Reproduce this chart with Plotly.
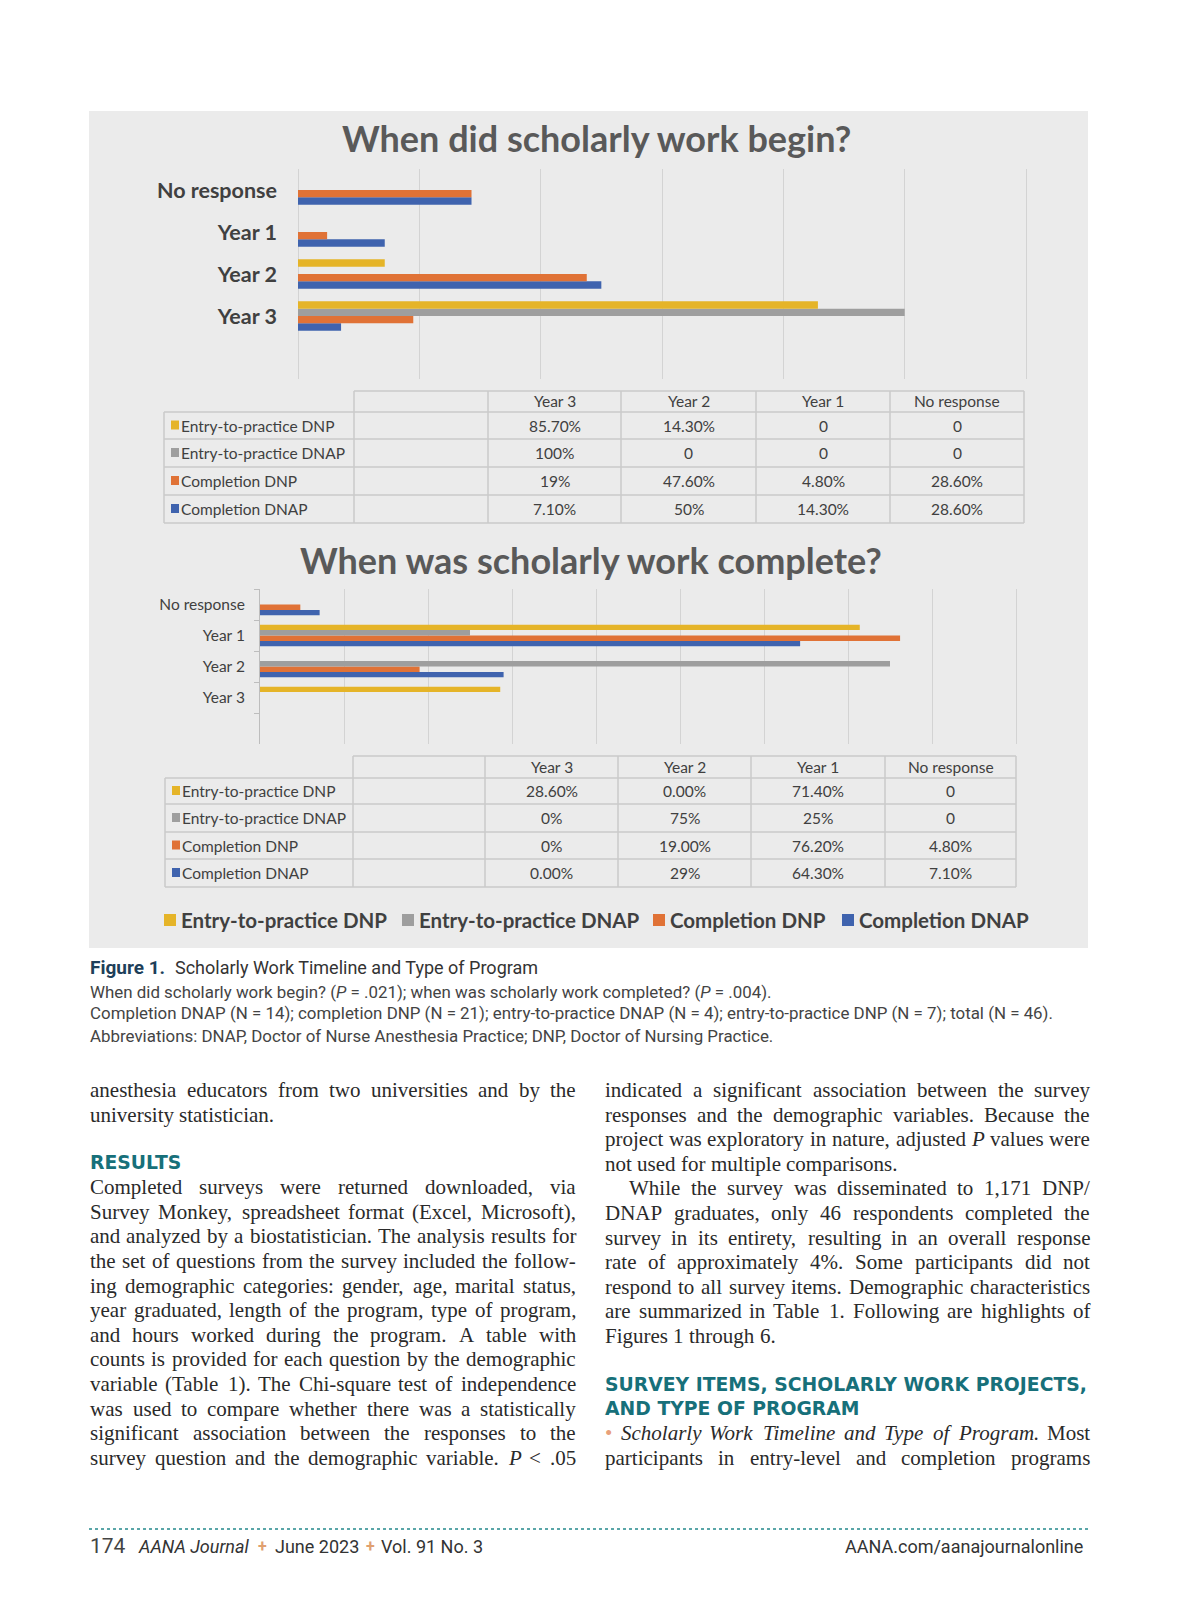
import plotly.graph_objects as go

W, H = 1200, 1606

# ---------------- data ----------------
categories = ["Year 3", "Year 2", "Year 1", "No response"]
series_names = ["Entry-to-practice DNP", "Entry-to-practice DNAP", "Completion DNP", "Completion DNAP"]
series_colors = ["#E5B428", "#9E9E9E", "#E07236", "#3F63AE"]

begin_entry_dnp = [85.7, 14.3, 0, 0]
begin_entry_dnap = [100, 0, 0, 0]
begin_compl_dnp = [19, 47.6, 4.8, 28.6]
begin_compl_dnap = [7.1, 50, 14.3, 28.6]

begin_entry_dnp_lbl = ["85.70%", "14.30%", "0", "0"]
begin_entry_dnap_lbl = ["100%", "0", "0", "0"]
begin_compl_dnp_lbl = ["19%", "47.60%", "4.80%", "28.60%"]
begin_compl_dnap_lbl = ["7.10%", "50%", "14.30%", "28.60%"]

complete_entry_dnp = [28.6, 0, 71.4, 0]
complete_entry_dnap = [0, 75, 25, 0]
complete_compl_dnp = [0, 19, 76.2, 4.8]
complete_compl_dnap = [0, 29, 64.3, 7.1]

complete_entry_dnp_lbl = ["28.60%", "0.00%", "71.40%", "0"]
complete_entry_dnap_lbl = ["0%", "75%", "25%", "0"]
complete_compl_dnp_lbl = ["0%", "19.00%", "76.20%", "4.80%"]
complete_compl_dnap_lbl = ["0.00%", "29%", "64.30%", "7.10%"]

title1 = "When did scholarly work begin?"
title2 = "When was scholarly work complete?"

caption_head = "Figure 1."
caption_title = "Scholarly Work Timeline and Type of Program"
caption_lines = [
    "When did scholarly work begin? (<i>P</i> = .021); when was scholarly work completed? (<i>P</i> = .004).",
    "Completion DNAP (N = 14); completion DNP (N = 21); entry-to-practice DNAP (N = 4); entry-to-practice DNP (N = 7); total (N = 46).",
    "Abbreviations: DNAP, Doctor of Nurse Anesthesia Practice; DNP, Doctor of Nursing Practice.",
]

# line markup: "#" heading, ">" indented first line, trailing "|" = last line of paragraph (not justified)
# words wrapped in _..._ are italic
left_col = [
    "anesthesia educators from two universities and by the",
    "university statistician.|",
    None,
    "#RESULTS",
    "Completed surveys were returned downloaded, via",
    "Survey Monkey, spreadsheet format (Excel, Microsoft),",
    "and analyzed by a biostatistician. The analysis results for",
    "the set of questions from the survey included the follow-",
    "ing demographic categories: gender, age, marital status,",
    "year graduated, length of the program, type of program,",
    "and hours worked during the program. A table with",
    "counts is provided for each question by the demographic",
    "variable (Table 1). The Chi-square test of independence",
    "was used to compare whether there was a statistically",
    "significant association between the responses to the",
    "survey question and the demographic variable. _P_ < .05",
]
right_col = [
    "indicated a significant association between the survey",
    "responses and the demographic variables. Because the",
    "project was exploratory in nature, adjusted _P_ values were",
    "not used for multiple comparisons.|",
    ">While the survey was disseminated to 1,171 DNP/",
    "DNAP graduates, only 46 respondents completed the",
    "survey in its entirety, resulting in an overall response",
    "rate of approximately 4%. Some participants did not",
    "respond to all survey items. Demographic characteristics",
    "are summarized in Table 1. Following are highlights of",
    "Figures 1 through 6.|",
    None,
    "#SURVEY ITEMS, SCHOLARLY WORK PROJECTS,",
    "#AND TYPE OF PROGRAM",
    "• _Scholarly_ _Work_ _Timeline_ _and_ _Type_ _of_ _Program._ Most",
    "participants in entry-level and completion programs",
]

footer_page = "174"
footer_parts = ["<i>AANA Journal</i>", "June 2023", "Vol. 91 No. 3"]
footer_right = "AANA.com/aanajournalonline"

# ---------------- helpers ----------------
DX, DY = -9, -8

def fx(x):
    return (x + DX) / W

def fy(y):
    return 1 - (y + DY) / H

CHART_FONT = "Lato"
annotations = []
shapes = []

def text(x, y, s, size, color="#404040", family=CHART_FONT, xanchor="left", weight="normal", style="normal"):
    annotations.append(dict(
        x=fx(x), y=fy(y), xref="paper", yref="paper", text=s, showarrow=False,
        xanchor=xanchor, yanchor="middle", borderpad=0,
        font=dict(size=size, color=color, family=family, weight=weight, style=style),
    ))

def rect(x0, y0, x1, y1, color, layer="below"):
    shapes.append(dict(type="rect", xref="paper", yref="paper",
                       x0=fx(x0), x1=fx(x1), y0=fy(y1), y1=fy(y0),
                       fillcolor=color, line=dict(width=0), layer=layer))

def line(x0, y0, x1, y1, color, width=1.5, dash="solid"):
    shapes.append(dict(type="line", xref="paper", yref="paper",
                       x0=fx(x0), x1=fx(x1), y0=fy(y0), y1=fy(y1),
                       line=dict(color=color, width=width, dash=dash), layer="above"))

# Times / Liberation Serif advance widths (1/1000 em)
TW = {' ': 250, '!': 333, '"': 408, '%': 833, '&': 778, "'": 180, '(': 333, ')': 333, '+': 564,
      ',': 250, '-': 333, '.': 250, '/': 278, ':': 278, ';': 278, '<': 564, '=': 564, '>': 564, '?': 444,
      '•': 350}
for c in "0123456789":
    TW[c] = 500
TW.update(dict(zip("ABCDEFGHIJKLMNOPQRSTUVWXYZ",
                   [722, 667, 667, 722, 611, 556, 722, 722, 333, 389, 722, 611, 889, 722, 722, 556, 722, 667,
                    556, 611, 722, 722, 944, 722, 722, 611])))
TW.update(dict(zip("abcdefghijklmnopqrstuvwxyz",
                   [444, 500, 444, 500, 444, 333, 500, 500, 278, 278, 500, 278, 778, 500, 500, 500, 500, 333,
                    389, 278, 500, 500, 722, 500, 500, 444])))
TWI = dict(TW)
TWI.update({'P': 611, 'S': 500, 'W': 833, 'T': 556, 'a': 500, 'f': 278, 'k': 444, 'm': 722, 'r': 389,
            'v': 444, 'w': 667, 'x': 444, 'y': 444, 'z': 389})

def word_width(w, size):
    italic = len(w) > 2 and w.startswith("_") and w.endswith("_")
    core = w[1:-1] if italic else w
    table = TWI if italic else TW
    return sum(table.get(c, 500) for c in core) * size / 1000.0

def word_html(w):
    if len(w) > 2 and w.startswith("_") and w.endswith("_"):
        return "<i>" + w[1:-1].replace("<", "&lt;") + "</i>"
    if w == "•":
        return "<span style='color:#E8A07A'>•</span>"
    return w.replace("<", "&lt;")

BODY = "Liberation Serif"
BODY_SIZE = 21
BODY_COLOR = "#2A2A2A"
HEAD = "DejaVu Sans"

def body_line(x0, x1, y, s, justify):
    words = s.split(" ")
    widths = [word_width(w, BODY_SIZE) for w in words]
    space = 250 * BODY_SIZE / 1000.0
    if justify and len(words) > 1:
        gap = (x1 - x0 - sum(widths)) / (len(words) - 1)
        gap = max(gap, 0.18 * BODY_SIZE)
    else:
        gap = space
    x = x0
    for w, wd in zip(words, widths):
        text(x, y, word_html(w), BODY_SIZE, BODY_COLOR, family=BODY)
        x += wd + gap

def draw_column(x0, x1, lines):
    y = 1090
    for s in lines:
        if s is None:
            y += 23.5
            continue
        if s.startswith("#"):
            text(x0, y, s[1:], 18.8, "#17707A", family=HEAD, weight="bold")
        else:
            justify = not s.endswith("|")
            s2 = s.rstrip("|")
            indent = 0
            if s2.startswith(">"):
                s2 = s2[1:]
                indent = 24
            body_line(x0 + indent, x1, y, s2, justify)
        y += 24.6

# gray figure panel
rect(90, 111, 1089, 948, "#EBEBEB")

fig = go.Figure()

begin_sets = [begin_entry_dnp, begin_entry_dnap, begin_compl_dnp, begin_compl_dnap]
complete_sets = [complete_entry_dnp, complete_entry_dnap, complete_compl_dnp, complete_compl_dnap]

# reversed so that the first series sits on top of each group
for i in reversed(range(4)):
    fig.add_trace(go.Bar(y=categories, x=begin_sets[i], orientation="h", name=series_names[i],
                         marker=dict(color=series_colors[i], line=dict(width=0)),
                         xaxis="x", yaxis="y", showlegend=False, hoverinfo="skip"))
for i in reversed(range(4)):
    fig.add_trace(go.Bar(y=categories, x=complete_sets[i], orientation="h", name=series_names[i],
                         marker=dict(color=series_colors[i], line=dict(width=0)),
                         xaxis="x2", yaxis="y2", showlegend=False, hoverinfo="skip"))

GRID = "#D3D3D3"

# titles
text(597, 138, title1, 36, "#595959", weight="bold", xanchor="center")
text(592, 560, title2, 36, "#595959", weight="bold", xanchor="center")

# tables
def draw_table(xb, yb, labels_sets):
    bc = "#CACACA"
    line(xb[1], yb[0], xb[-1], yb[0], bc)
    for y in yb[1:]:
        line(xb[0], y, xb[-1], y, bc)
    line(xb[0], yb[1], xb[0], yb[-1], bc)
    for x in xb[1:]:
        line(x, yb[0], x, yb[-1], bc)
    for j, c in enumerate(categories):
        text((xb[j + 2] + xb[j + 3]) / 2, (yb[0] + yb[1]) / 2, c, 15.5, xanchor="center")
    for i, name in enumerate(series_names):
        yc = (yb[i + 1] + yb[i + 2]) / 2
        rect(xb[0] + 7, yc - 5, xb[0] + 15, yc + 4, series_colors[i], layer="above")
        text(xb[0] + 16, yc, name, 15.5)
        for j in range(4):
            text((xb[j + 2] + xb[j + 3]) / 2, yc, labels_sets[i][j], 15.5, xanchor="center")

draw_table([165, 355, 489, 622, 757, 891, 1025], [391, 412, 439, 467, 495, 523],
           [begin_entry_dnp_lbl, begin_entry_dnap_lbl, begin_compl_dnp_lbl, begin_compl_dnap_lbl])
draw_table([166, 354, 486, 619, 752, 886, 1017], [756, 778, 804, 832, 859, 887],
           [complete_entry_dnp_lbl, complete_entry_dnap_lbl, complete_compl_dnp_lbl, complete_compl_dnap_lbl])

# legend
legend_x = [165, 403, 654, 843]
for i, name in enumerate(series_names):
    rect(legend_x[i], 914, legend_x[i] + 12, 926, series_colors[i], layer="above")
    text(legend_x[i] + 16, 920, name, 20.5, "#404040", weight="bold")

# caption
CAP = "Roboto"
text(90, 968, caption_head, 19, "#1E3F5A", family=CAP, weight="bold")
text(175, 968, caption_title, 18, "#333333", family=CAP)
for k, s in enumerate(caption_lines):
    text(90, [992, 1013, 1036][k], s, 16.9, "#444444", family=CAP)

draw_column(90, 576, left_col)
draw_column(605, 1090, right_col)

# footer
line(90, 1529, 1090, 1529, "#5AA6A8", width=2, dash="dot")
text(90, 1546, footer_page, 21, "#444444", family=CAP)
fx_pos = [138, 275, 381]
for k, s in enumerate(footer_parts):
    text(fx_pos[k], 1546, s, 18, "#333333", family=CAP)
for xp in [263, 371]:
    text(xp, 1546, "+", 16, "#E0A070", family=CAP, weight="bold", xanchor="center")
text(1085, 1546, footer_right, 18, "#333333", family=CAP, xanchor="right")

# axis geometry (range slightly past last gridline so the final gridline is drawn)
x1_left, x1_unit, x1_max = 299, (1027 - 299) / 120.0, 120.4
x2_left, x2_unit, x2_max = 261, (1017 - 261) / 90.0, 90.4

fig.update_layout(
    width=W, height=H,
    margin=dict(l=0, r=0, t=0, b=0),
    paper_bgcolor="white", plot_bgcolor="rgba(0,0,0,0)",
    barmode="group", bargap=0.3, bargroupgap=0,
    showlegend=False,
    annotations=annotations, shapes=shapes,
    xaxis=dict(domain=[fx(x1_left), fx(x1_left + x1_unit * x1_max)], range=[0, x1_max], dtick=20,
               showgrid=True, gridcolor=GRID, gridwidth=1, zeroline=True, zerolinecolor=GRID, zerolinewidth=1,
               showticklabels=False, ticks="", anchor="y", fixedrange=True),
    yaxis=dict(domain=[fy(379), fy(169)], type="category", categoryorder="array", categoryarray=categories,
               range=[-1.5, 3.5], showgrid=False, zeroline=False, ticks="", anchor="x",
               ticklabelstandoff=20,
               tickfont=dict(family=CHART_FONT, size=21.5, color="#404040", weight="bold"), fixedrange=True),
    xaxis2=dict(domain=[fx(x2_left), fx(x2_left + x2_unit * x2_max)], range=[0, x2_max], dtick=10,
                showgrid=True, gridcolor=GRID, gridwidth=1, zeroline=False,
                showticklabels=False, ticks="", anchor="y2", fixedrange=True),
    yaxis2=dict(domain=[fy(744), fy(589)], type="category", categoryorder="array", categoryarray=categories,
                range=[-1.5, 3.5], showgrid=False, zeroline=False, showline=True, linecolor="#BDBDBD",
                linewidth=1, ticks="outside", ticklen=5, tickcolor="#BDBDBD", tickson="boundaries",
                ticklabelstandoff=11, anchor="x2",
                tickfont=dict(family=CHART_FONT, size=15.5, color="#404040"), fixedrange=True),
)

fig.write_html("out.html")
